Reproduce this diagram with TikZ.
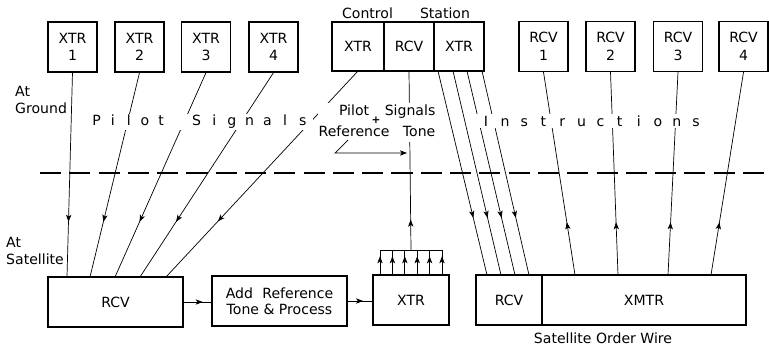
\documentclass[tikz,border=0pt]{standalone}
\usepackage{fontspec}
\setmainfont{DejaVu Sans}
\usepackage{tikz}
\usetikzlibrary{positioning, arrows.meta, calc, decorations.markings}

\begin{document}
\begin{tikzpicture}[x=0.03cm, y=-0.03cm, font=\fontsize{12}{14}\selectfont,
    unitbox/.style={draw, line width=1.1pt, minimum width=1.47cm, minimum height=1.5cm, align=center, inner sep=1pt},
    cellbox/.style={draw, line width=1.1pt, minimum height=1.47cm, inner sep=1pt, outer sep=0pt},
    satbox/.style={draw, line width=1.1pt, minimum height=1.5cm, align=center, inner sep=1pt, outer sep=0pt},
    sigline/.style={line width=0.6pt},
    midarrow/.style={sigline, postaction={decorate}, decoration={markings, mark=at position #1 with {\arrow{Stealth[length=6pt, width=4.5pt, inset=1.5pt]}}}},
    textband/.style={fill=white, inner sep=1pt}]
    \useasboundingbox (0,0) rectangle (769,347);

    % ground units
    \node[unitbox] at (72.5,47) (xtr1) {XTR\\[1pt]1};
    \node[unitbox] at (139.5,47) (xtr2) {XTR\\[1pt]2};
    \node[unitbox] at (206,47) (xtr3) {XTR\\[1pt]3};
    \node[unitbox] at (273.5,47) (xtr4) {XTR\\[1pt]4};

    \node[cellbox, minimum width=1.56cm] at (358,46.5) (ctrlx) {XTR};
    \node[cellbox, minimum width=1.5cm] at (409,46.5) (ctrlr) {RCV};
    \node[cellbox, minimum width=1.5cm] at (459,46.5) (ctrlx2) {XTR};
    \node at (367.5,13) (ctrllbl) {Control};
    \node at (445,13) (statlbl) {Station};

    \node[unitbox] at (543.5,46.5) (rcv1) {RCV\\[1pt]1};
    \node[unitbox] at (610.5,46.5) (rcv2) {RCV\\[1pt]2};
    \node[unitbox] at (678,46.5) (rcv3) {RCV\\[1pt]3};
    \node[unitbox] at (743.5,46.5) (rcv4) {RCV\\[1pt]4};

    % satellite units
    \node[satbox, minimum width=4.05cm] at (115.5,302) (rcvsat) {RCV};
    \node[satbox, minimum width=4.05cm] at (279.5,301) (addref) {Add\hspace{8pt}Reference\\Tone \& Process};
    \node[satbox, minimum width=2.28cm] at (411,300) (xtrsat) {XTR};
    \node[satbox, minimum width=1.98cm] at (509,300) (owrcv) {RCV};
    \node[satbox, minimum width=6.12cm] at (644,300) (xmtr) {XMTR};
    \node at (603,338) (orderwire) {Satellite Order Wire};

    \node[anchor=west, align=left, inner sep=0pt] at (15,100) (atground) {At\\Ground};
    \node[anchor=west, align=left, inner sep=0pt] at (6,251) (atsat) {At\\Satellite};

    % boundary
    \coordinate (dashl) at (40,173);
    \coordinate (dashr) at (769,173);
    \draw[line width=0.9pt, dash pattern=on 18pt off 7pt] (dashl) -- (dashr);

    % pilot signals up to the satellite
    \draw[midarrow=0.73] (xtr1.south) -- ($(rcvsat.north west)+(19,0)$);
    \draw[midarrow=0.73] (xtr2.south) -- ($(rcvsat.north west)+(42,0)$);
    \draw[midarrow=0.73] (xtr3.south) -- ($(rcvsat.north west)+(67,0)$);
    \draw[midarrow=0.73] (xtr4.south) -- ($(rcvsat.north west)+(92,0)$);
    \draw[midarrow=0.73] (ctrlx.south) -- ($(rcvsat.north west)+(118,0)$);

    \draw[midarrow=0.68] (rcvsat.east) -- (rcvsat.east -| addref.west);
    \draw[midarrow=0.62] (addref.east) -- (addref.east -| xtrsat.west);

    % pilot signals + reference tone back down
    \coordinate (brk) at ($(xtrsat.north)+(0,-25)$);
    \foreach \dx in {-31,-18.6,-6.2,6.2,18.6,31}
      \draw[midarrow=0.75] ($(xtrsat.north)+(\dx,0)$) -- ($(brk)+(\dx,0)$);
    \draw[sigline] ($(brk)+(-31,0)$) -- ($(brk)+(31,0)$);
    \draw[midarrow=0.17] (brk) -- (ctrlr.south);

    % order wire
    \foreach \a/\b in {4/11, 19/25, 33/39, 48/53}
      \draw[midarrow=0.72] ($(ctrlx2.south west)+(\a,0)$) -- ($(owrcv.north west)+(\b,0)$);
    \foreach \a/\r in {33/rcv1, 76/rcv2, 126/rcv3, 169/rcv4}
      \draw[midarrow=0.26] ($(xmtr.north west)+(\a,0)$) -- (\r.south);

    % labels on the links
    \node[textband] at (200,122) (pilotsig) {\foreach \c in {P,i,l,o,t}{\makebox[13.8pt]{\c}}\hspace{15.7pt}\foreach \c in {S,i,g,n,a,l,s}{\makebox[15.1pt]{\c}}};
    \node[textband] at (591,121) (instr) {\foreach \c in {I,n,s,t,r,u,c,t,i,o,n,s}{\makebox[16.3pt]{\c}}};
    \node[textband] at (377,122.5) (reftone) {\begin{tabular}{@{}c@{\hspace{-4pt}}r@{}}Pilot & Signals\\[4pt]Reference & Tone\end{tabular}};
    \node[inner sep=0pt, font=\fontsize{9}{11}\selectfont\bfseries] at (376,120.5) (plus) {+};

    \coordinate (refa) at (348,140);
    \coordinate (refb) at (335,153);
    \coordinate (refc) at (407,153);
    \draw[sigline, -{Stealth[length=6pt, width=4.5pt, inset=1.5pt]}] (refa) -- (refb) -- (refc);
\end{tikzpicture}
\end{document}
